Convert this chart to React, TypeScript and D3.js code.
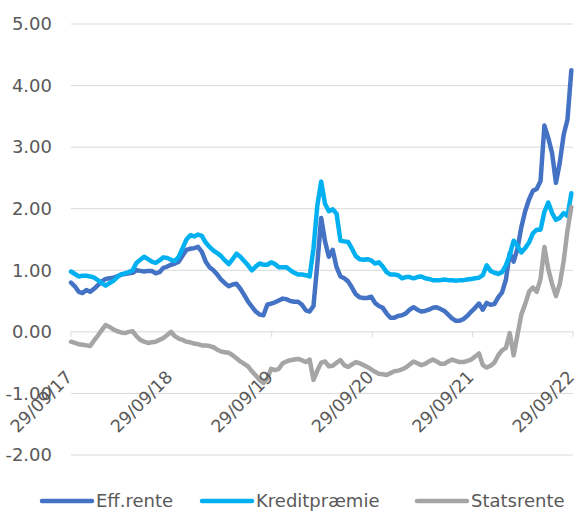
import * as d3 from 'd3';

// 29/09/17 .. 29/09/22, one point every two weeks
const startDate = new Date(2017, 8, 29);
const stepDays = 14;

const tickLabels = ['29/09/17', '29/09/18', '29/09/19', '29/09/20', '29/09/21', '29/09/22'];
const tickDates = [
  new Date(2017, 8, 29),
  new Date(2018, 8, 29),
  new Date(2019, 8, 29),
  new Date(2020, 8, 29),
  new Date(2021, 8, 29),
  new Date(2022, 8, 29),
];
const yTicks = [-2, -1, 0, 1, 2, 3, 4, 5];

const effRente = [
  0.80, 0.74, 0.65, 0.63, 0.68, 0.65, 0.70, 0.76, 0.82, 0.86,
  0.87, 0.88, 0.90, 0.93, 0.94, 0.95, 0.96, 1.00, 0.99, 0.98,
  0.99, 0.99, 0.95, 0.97, 1.04, 1.06, 1.09, 1.11, 1.14, 1.24,
  1.33, 1.35, 1.36, 1.38, 1.30, 1.14, 1.05, 1.00, 0.93, 0.85,
  0.79, 0.74, 0.77, 0.78, 0.70, 0.60, 0.49, 0.41, 0.33, 0.28,
  0.27, 0.44, 0.46, 0.48, 0.51, 0.54, 0.53, 0.50, 0.49, 0.49,
  0.44, 0.35, 0.33, 0.42, 1.10, 1.85, 1.47, 1.22, 1.33, 1.05,
  0.90, 0.87, 0.82, 0.72, 0.61, 0.56, 0.55, 0.55, 0.57, 0.47,
  0.42, 0.39, 0.30, 0.23, 0.23, 0.26, 0.27, 0.30, 0.36, 0.40,
  0.36, 0.33, 0.34, 0.36, 0.39, 0.40, 0.37, 0.34, 0.28, 0.22,
  0.18, 0.18, 0.21, 0.26, 0.33, 0.39, 0.46, 0.36, 0.47, 0.44,
  0.45, 0.56, 0.64, 0.85, 1.28, 1.14, 1.35, 1.70, 1.96, 2.15,
  2.29, 2.32, 2.45, 3.35, 3.15, 2.90, 2.42, 2.75, 3.20, 3.45,
  4.25,
];

const kreditpraemie = [
  0.98, 0.94, 0.90, 0.91, 0.91, 0.90, 0.88, 0.84, 0.79, 0.75,
  0.79, 0.83, 0.89, 0.93, 0.95, 0.97, 1.00, 1.12, 1.17, 1.22,
  1.18, 1.14, 1.12, 1.16, 1.21, 1.20, 1.17, 1.15, 1.22, 1.36,
  1.50, 1.57, 1.55, 1.58, 1.56, 1.45, 1.38, 1.32, 1.28, 1.23,
  1.16, 1.10, 1.18, 1.27, 1.22, 1.15, 1.08, 1.00, 1.06, 1.11,
  1.09, 1.09, 1.13, 1.10, 1.05, 1.05, 1.05, 1.00, 0.96, 0.93,
  0.93, 0.92, 0.90, 1.35, 2.05, 2.44, 2.08, 1.96, 1.99, 1.92,
  1.48, 1.47, 1.46, 1.35, 1.23, 1.18, 1.17, 1.18, 1.16, 1.11,
  1.13, 1.06, 0.97, 0.93, 0.93, 0.92, 0.87, 0.89, 0.89, 0.87,
  0.89, 0.90, 0.87, 0.86, 0.84, 0.84, 0.84, 0.85, 0.84, 0.84,
  0.83, 0.84, 0.84, 0.85, 0.86, 0.87, 0.88, 0.92, 1.08, 0.99,
  0.96, 0.94, 0.97, 1.08, 1.25, 1.48, 1.40, 1.29, 1.36, 1.45,
  1.60, 1.66, 1.66, 1.95, 2.10, 1.93, 1.82, 1.85, 1.93, 1.88,
  2.25,
];

const statsrente = [
  -0.16, -0.18, -0.20, -0.21, -0.22, -0.23, -0.14, -0.06, 0.03, 0.11,
  0.08, 0.04, 0.01, -0.01, -0.02, 0.00, 0.01, -0.07, -0.13, -0.16,
  -0.18, -0.17, -0.16, -0.13, -0.10, -0.05, 0.00, -0.07, -0.11, -0.13,
  -0.16, -0.17, -0.19, -0.20, -0.22, -0.22, -0.23, -0.25, -0.29, -0.32,
  -0.33, -0.34, -0.38, -0.43, -0.48, -0.52, -0.56, -0.64, -0.71, -0.78,
  -0.83, -0.76, -0.60, -0.62, -0.60, -0.51, -0.48, -0.46, -0.45, -0.44,
  -0.46, -0.49, -0.45, -0.78, -0.63, -0.50, -0.48, -0.56, -0.55, -0.50,
  -0.46, -0.54, -0.57, -0.53, -0.49, -0.51, -0.54, -0.57, -0.61, -0.65,
  -0.68, -0.69, -0.70, -0.67, -0.64, -0.63, -0.61, -0.58, -0.53, -0.48,
  -0.51, -0.54, -0.52, -0.48, -0.45, -0.48, -0.52, -0.52, -0.48, -0.45,
  -0.47, -0.49, -0.49, -0.47, -0.45, -0.40, -0.35, -0.54, -0.58, -0.55,
  -0.50, -0.38, -0.30, -0.26, -0.02, -0.38, -0.05, 0.28, 0.45, 0.65,
  0.72, 0.65, 0.86, 1.38, 1.02, 0.78, 0.58, 0.78, 1.15, 1.65,
  2.03,
];

const seriesNames = ['Eff.rente', 'Kreditpræmie', 'Statsrente'];
const seriesColors = ['#4472C4', '#00B0F0', '#A5A5A5'];
const seriesValues = [effRente, kreditpraemie, statsrente];

const width = 578;
const height = 511;
const margin = { top: 24, right: 5, bottom: 56, left: 71 };
const font = '"DejaVu Sans", sans-serif';
const textColor = '#595959';
const gridColor = '#D9D9D9';

export default function App() {
  const x = d3
    .scaleTime()
    .domain([tickDates[0], tickDates[tickDates.length - 1]])
    .range([margin.left, width - margin.right]);
  const y = d3.scaleLinear().domain([-2, 5]).range([height - margin.bottom, margin.top]);

  const dates = effRente.map((_, i) => d3.timeDay.offset(startDate, i * stepDays));
  const line = d3
    .line<number>()
    .x((_, i) => x(dates[i]))
    .y((d) => y(d));

  const y0 = y(0);

  // legend: line sample + label for each series
  const legendY = 501;
  const legendX = [42, 202, 417];
  const sampleLen = 50;

  return (
    <svg
      width={width}
      height={height}
      style={{ position: 'absolute', left: 0, top: 0, background: '#fff' }}
      fontFamily={font}
    >
      {/* gridlines */}
      {yTicks.map((t) => (
        <line
          key={t}
          x1={margin.left}
          x2={width - margin.right}
          y1={y(t)}
          y2={y(t)}
          stroke={gridColor}
          strokeWidth={1}
        />
      ))}
      {/* y labels */}
      {yTicks.map((t) => (
        <text
          key={'l' + t}
          x={52}
          y={y(t)}
          dy="0.35em"
          textAnchor="end"
          fontSize={18}
          fill={textColor}
        >
          {t.toFixed(2)}
        </text>
      ))}
      {/* x tick marks on the zero line */}
      {tickDates.map((d, i) => (
        <line
          key={'t' + i}
          x1={x(d)}
          x2={x(d)}
          y1={y0}
          y2={y0 + 5}
          stroke={gridColor}
          strokeWidth={1}
        />
      ))}
      {/* series */}
      {seriesValues.map((vals, s) => (
        <path
          key={seriesNames[s]}
          d={line(vals) ?? ''}
          fill="none"
          stroke={seriesColors[s]}
          strokeWidth={4.5}
          strokeLinejoin="round"
          strokeLinecap="round"
        />
      ))}
      {/* x labels */}
      {tickDates.map((d, i) => (
        <text
          key={'x' + i}
          transform={`translate(${x(d) - 2},${y0 + 42}) rotate(-45)`}
          dy="0.35em"
          textAnchor="end"
          fontSize={17.5}
          fill={textColor}
        >
          {tickLabels[i]}
        </text>
      ))}
      {/* legend */}
      {seriesNames.map((name, s) => (
        <g key={'lg' + s}>
          <line
            x1={legendX[s]}
            x2={legendX[s] + sampleLen}
            y1={legendY}
            y2={legendY}
            stroke={seriesColors[s]}
            strokeWidth={4.5}
            strokeLinecap="round"
          />
          <text
            x={legendX[s] + sampleLen + 4}
            y={legendY}
            dy="0.35em"
            fontSize={18}
            fill={textColor}
          >
            {name}
          </text>
        </g>
      ))}
    </svg>
  );
}
